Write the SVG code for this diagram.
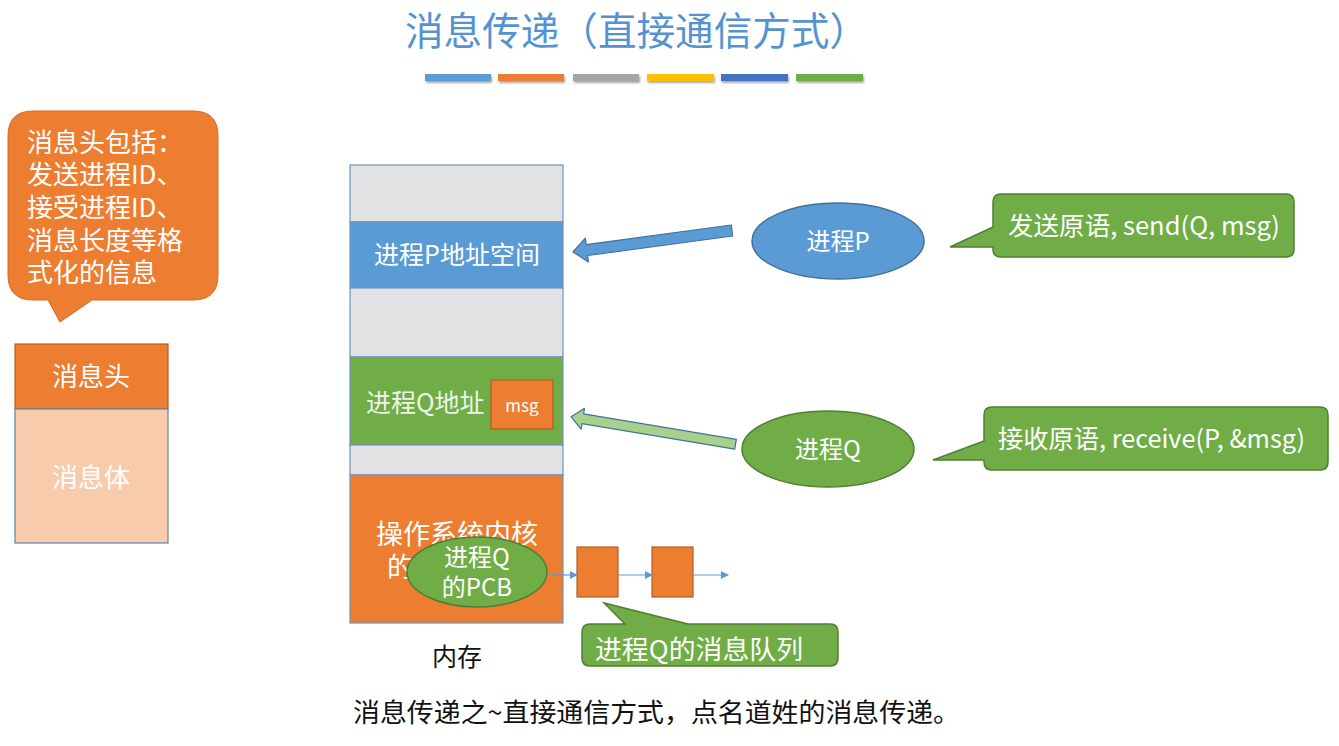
<svg xmlns="http://www.w3.org/2000/svg" width="1339" height="746" viewBox="0 0 1339 746">
<style>
text{font-family:"Noto Sans CJK SC","Noto Sans",sans-serif}
.w{fill:#fff}
.k{fill:#111}
.seg{stroke:#6F93BC;stroke-width:1.2}
.gray{fill:#E2E1E3}
.org{fill:#ED7D31;stroke:#B55E22;stroke-width:1.2}
.grn{fill:#70AD47;stroke:#507E32;stroke-width:1.5}
.blu{fill:#5B9BD5;stroke:#41719C;stroke-width:1.5}
.ql{stroke:#5B9BD5;stroke-width:1.2;fill:none}
</style>
<defs>
<marker id="ah" markerWidth="8" markerHeight="8" refX="7" refY="4" orient="auto" markerUnits="userSpaceOnUse">
<path d="M0,0 L8,4 L0,8 z" fill="#5B9BD5"/>
</marker>
<filter id="sh" x="-10%" y="-50%" width="120%" height="250%">
<feDropShadow dx="1" dy="2" stdDeviation="1" flood-color="#000" flood-opacity="0.35"/>
</filter>
</defs>

<g id="title">
<text x="405" y="45" font-size="39" fill="#5592D2" textLength="463" lengthAdjust="spacingAndGlyphs">消息传递（直接通信方式）</text>
<g filter="url(#sh)">
<rect x="425" y="74" width="66" height="7" fill="#5B9BD5"/>
<rect x="498" y="74" width="66" height="7" fill="#ED7D31"/>
<rect x="573" y="74" width="66" height="7" fill="#A5A5A5"/>
<rect x="647" y="74" width="67" height="7" fill="#FFC000"/>
<rect x="721" y="74" width="67" height="7" fill="#4472C4"/>
<rect x="796" y="74" width="67" height="7" fill="#70AD47"/>
</g>
</g>

<g id="header-callout">
<path d="M33,111 H193 Q218,111 218,136 V275 Q218,300 193,300 H92 L60,322 L48,300 H33 Q8,300 8,275 V136 Q8,111 33,111 Z" fill="#ED7D31" stroke="#D06A24" stroke-width="1"/>
<text class="w" font-size="26"><tspan x="27" y="152">消息头包括：</tspan><tspan x="27" y="184">发送进程ID、</tspan><tspan x="27" y="217">接受进程ID、</tspan><tspan x="27" y="250">消息长度等格</tspan><tspan x="27" y="282">式化的信息</tspan></text>
</g>

<g id="message">
<rect x="15" y="344" width="153" height="65" class="org"/>
<text x="91" y="386" font-size="26" class="w" text-anchor="middle">消息头</text>
<rect x="15" y="409" width="153" height="134" fill="#F8CBAD" stroke="#5E86B0" stroke-width="1.2"/>
<text x="91" y="487" font-size="26" class="w" text-anchor="middle">消息体</text>
</g>

<g id="memory">
<rect x="350" y="165" width="213" height="57" class="gray seg"/>
<rect x="350" y="222" width="213" height="66" fill="#5B9BD5" class="seg"/>
<text x="457" y="264" font-size="25" class="w" text-anchor="middle">进程P地址空间</text>
<rect x="350" y="288" width="213" height="69" class="gray seg"/>
<rect x="350" y="357" width="213" height="88" fill="#70AD47" class="seg"/>
<text x="366" y="412" font-size="25" fill="#EEF5E8">进程Q地址</text>
<rect x="491" y="380" width="62" height="49" class="org"/>
<text x="522" y="412" font-size="17" class="w" text-anchor="middle">msg</text>
<rect x="350" y="445" width="213" height="30" class="gray seg"/>
<rect x="350" y="475" width="213" height="148" fill="#ED7D31" class="seg"/>
<text x="457" y="544" font-size="27" class="w" text-anchor="middle">操作系统内核</text>
<text x="387" y="577" font-size="27" class="w">的</text>
<text x="457" y="666" font-size="25" class="k" text-anchor="middle">内存</text>
</g>

<g id="pcb">
<ellipse cx="477" cy="572" rx="70" ry="35" class="grn"/>
<text x="477" y="566" font-size="24" class="w" text-anchor="middle">进程Q</text>
<text x="477" y="596" font-size="24" class="w" text-anchor="middle">的PCB</text>
</g>

<g id="queue1"><rect x="577" y="547" width="41" height="50" class="org"/></g>
<g id="queue2"><rect x="652" y="547" width="41" height="50" class="org"/></g>

<g id="queue-callout">
<path d="M590,624 H625 L604,603 L688,624 H830 Q838,624 838,632 V658 Q838,666 830,666 H590 Q582,666 582,658 V632 Q582,624 590,624 Z" class="grn"/>
<text x="595" y="659" font-size="26" class="w" textLength="208" lengthAdjust="spacingAndGlyphs">进程Q的消息队列</text>
</g>

<g id="procP">
<ellipse cx="838" cy="241" rx="86" ry="38" class="blu"/>
<text x="838" y="250" font-size="24" class="w" text-anchor="middle">进程P</text>
</g>

<g id="procQ">
<ellipse cx="828" cy="449" rx="86" ry="38" class="grn"/>
<text x="828" y="458" font-size="24" class="w" text-anchor="middle">进程Q</text>
</g>

<g id="send-callout">
<path d="M1001,194 H1286 Q1294,194 1294,202 V249 Q1294,257 1286,257 H1001 Q993,257 993,249 V247 L950,247 L993,227 V202 Q993,194 1001,194 Z" class="grn"/>
<text x="1008" y="235" font-size="25" class="w" textLength="272" lengthAdjust="spacingAndGlyphs">发送原语, send(Q, msg)</text>
</g>

<g id="recv-callout">
<path d="M992,407 H1320 Q1328,407 1328,415 V462 Q1328,470 1320,470 H992 Q984,470 984,462 V460 L933,460 L984,441 V415 Q984,407 992,407 Z" class="grn"/>
<text x="998" y="448" font-size="25" class="w" textLength="307" lengthAdjust="spacingAndGlyphs">接收原语, receive(P, &amp;msg)</text>
</g>

<g id="connectors">
<polygon points="573,252 585.3,238.2 586.2,244.6 731.3,225 732.7,236 587.6,255.5 588.5,262" fill="#5B9BD5" stroke="#41719C" stroke-width="1.2" stroke-linejoin="round"/>
<polygon points="571,416.7 584.5,408.3 583.6,413.8 736.3,439.4 734.7,449.2 582,423.6 581.1,429.1" fill="#A9D18E" stroke="#41719C" stroke-width="1.2" stroke-linejoin="round"/>
<line x1="547" y1="575" x2="577" y2="575" class="ql" marker-end="url(#ah)"/>
<line x1="618" y1="575" x2="652" y2="575" class="ql" marker-end="url(#ah)"/>
<line x1="693" y1="575" x2="728" y2="575" class="ql" marker-end="url(#ah)"/>
</g>

<g id="caption">
<text x="353" y="722" font-size="26" class="k" textLength="607" lengthAdjust="spacingAndGlyphs">消息传递之~直接通信方式，点名道姓的消息传递。</text>
</g>
</svg>
